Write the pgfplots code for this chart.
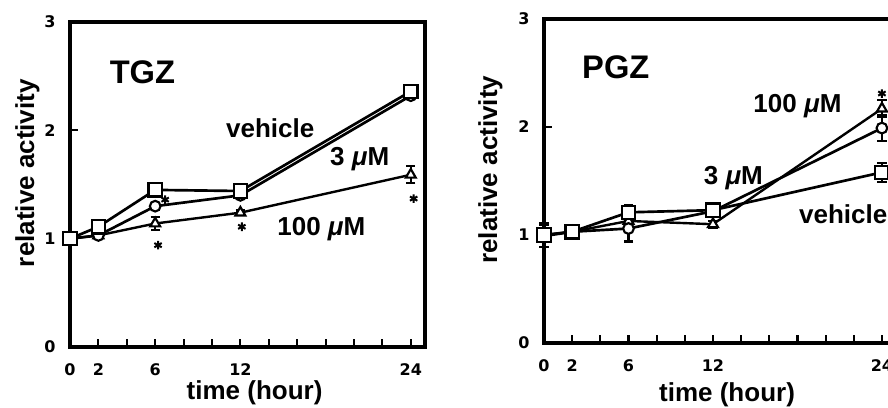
\documentclass[border=0pt]{standalone}
\usepackage{pgfplots}
\pgfplotsset{compat=1.18}
\usepackage{fontspec}
\setmainfont{Liberation Sans}
\newfontfamily\tickfamily{DejaVu Sans}
\newcommand{\tickfont}{\tickfamily\bfseries\fontsize{12}{12}\selectfont}
\begin{document}
\begin{tikzpicture}
\tikzset{
  lab/.style={font=\fontsize{19.5}{20}\selectfont\bfseries, inner sep=0pt},
  ttl/.style={font=\fontsize{24.5}{25}\selectfont\bfseries, inner sep=0pt},
}
\pgfplotsset{
  panel/.style={
    scale only axis,
    anchor=south west,
    xmin=0, xmax=25, ymin=0, ymax=3,
    axis line style={line width=2.3pt},
    xtick={0,2,6,12,24},
    minor xtick={4,8,10,14,16,18,20,22},
    ytick={0,1,2,3},
    tick align=inside,
    xtick pos=bottom, ytick pos=left,
    major tick length=6pt, minor tick length=6pt,
    tick style={line width=1.6pt, black},
    /pgf/number format/assume math mode=true,
    tick label style={font=\tickfont},
    xticklabel={\tickfont\pgfmathprintnumber{\tick}},
    yticklabel={\tickfont\pgfmathprintnumber{\tick}},
    xticklabel style={anchor=center, yshift=-17pt},
    yticklabel style={anchor=center, xshift=-15pt},
    label style={font=\fontsize{19.5}{20}\selectfont\bfseries},
    xlabel={time (hour)},
    ylabel={relative activity},
    clip=false,
  },
  sq/.style={black, line width=2pt, mark=square*, mark size=5pt,
    mark options={fill=white, line width=1.7pt, solid}},
  ci/.style={black, line width=2pt, mark=*, mark size=4pt,
    mark options={fill=white, line width=1.6pt, solid}},
  tr/.style={black, line width=1.8pt, mark=triangle*, mark size=4.3pt,
    mark options={fill=white, line width=1.6pt, solid}},
  err/.style={error bars/.cd, y dir=both, y explicit,
    error bar style={line width=1.6pt},
    error mark options={rotate=90, mark size=3.5pt, line width=1.6pt}},
  ast/.style={only marks, mark=asterisk, mark size=3.2pt, line width=1.5pt, black},
}
% ---------------- TGZ ----------------
\begin{axis}[panel, at={(52.5pt,-260.25pt)}, width=266.25pt, height=243.75pt,
  xlabel style={at={(axis description cs:0.52,-0.142)}, anchor=center},
  ylabel style={at={(axis description cs:-0.12,0.535)}, anchor=center}]
\addplot[tr, err] coordinates {
 (0,1.0) +- (0,0)
 (2,1.03) +- (0,0.02)
 (6,1.14) +- (0,0.06)
 (12,1.24) +- (0,0.02)
 (24,1.59) +- (0,0.08)
};
\addplot[ci, err] coordinates {
 (0,1.0) +- (0,0)
 (2,1.03) +- (0,0.02)
 (6,1.30) +- (0,0.03)
 (12,1.40) +- (0,0.02)
 (24,2.32) +- (0,0.02)
};
\addplot[sq, err] coordinates {
 (0,1.0) +- (0,0)
 (2,1.11) +- (0,0.02)
 (6,1.45) +- (0,0.02)
 (12,1.44) +- (0,0.02)
 (24,2.36) +- (0,0.02)
};
\addplot[ast] coordinates {(6.7,1.36) (6.2,0.94) (12.1,1.11) (24.2,1.37)};
\node[ttl] at (axis cs:5.1,2.54) {TGZ};
\node[lab] at (axis cs:14.1,2.02) {vehicle};
\node[lab] at (axis cs:20.4,1.73) {3 \textit{μ}M};
\node[lab] at (axis cs:17.7,1.09) {100 \textit{μ}M};
\end{axis}
% ---------------- PGZ ----------------
\begin{axis}[panel, at={(408pt,-257.25pt)}, width=264pt, height=243pt,
  xlabel style={at={(axis description cs:0.52,-0.16)}, anchor=center},
  ylabel style={at={(axis description cs:-0.152,0.535)}, anchor=center}]
\addplot[tr, err] coordinates {
 (0,1.0) +- (0,0.02)
 (2,1.03) +- (0,0.03)
 (6,1.13) +- (0,0.03)
 (12,1.10) +- (0,0.03)
 (24,2.17) +- (0,0.08)
};
\addplot[ci, err] coordinates {
 (0,0.99) +- (0,0.10)
 (2,1.03) +- (0,0.05)
 (6,1.06) +- (0,0.12)
 (12,1.22) +- (0,0.05)
 (24,1.99) +- (0,0.12)
};
\addplot[sq, err] coordinates {
 (0,1.0) +- (0,0.11)
 (2,1.03) +- (0,0.06)
 (6,1.21) +- (0,0.07)
 (12,1.23) +- (0,0.05)
 (24,1.58) +- (0,0.09)
};
\addplot[ast] coordinates {(24,2.31)};
\node[ttl] at (axis cs:5.1,2.55) {PGZ};
\node[lab] at (axis cs:18.0,2.19) {100 \textit{μ}M};
\node[lab] at (axis cs:13.45,1.53) {3 \textit{μ}M};
\node[lab, anchor=west] at (axis cs:18.1,1.19) {vehicle};
\end{axis}
\pgfresetboundingbox
\path[use as bounding box] (0pt,0pt) rectangle (666pt,-305.25pt);
\end{tikzpicture}
\end{document}
